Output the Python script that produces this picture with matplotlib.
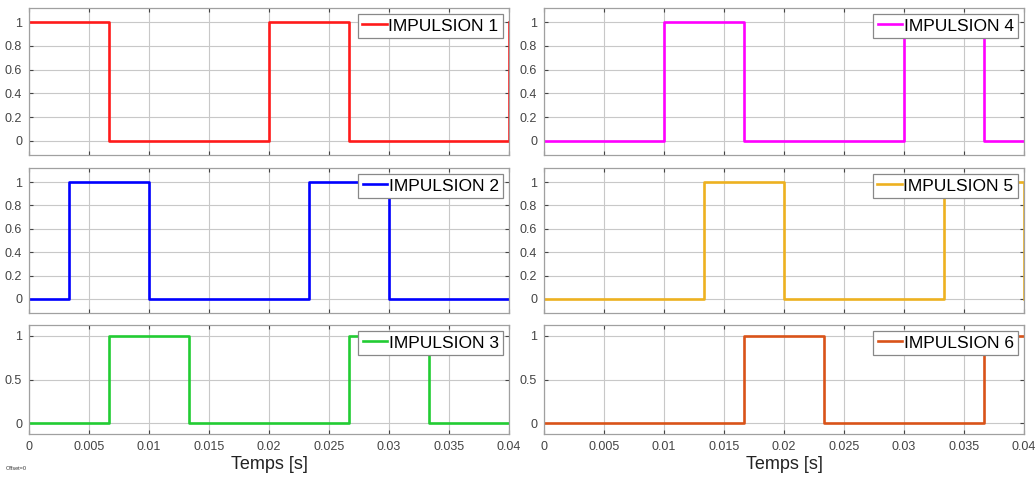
import matplotlib
matplotlib.use("Agg")
import matplotlib.pyplot as plt
import numpy as np

plt.rcParams['font.family'] = ['Liberation Sans', 'DejaVu Sans']

# instants de commutation et niveaux (steps-post)
t1 = [0, 0.00667, 0.02, 0.02667, 0.04];            y1 = [1, 0, 1, 0, 1]
t2 = [0, 0.00333, 0.01, 0.02333, 0.03, 0.04];      y2 = [0, 1, 0, 1, 0, 0]
t3 = [0, 0.00667, 0.01333, 0.02667, 0.03333, 0.04]; y3 = [0, 1, 0, 1, 0, 0]
t4 = [0, 0.01, 0.01667, 0.03, 0.03667, 0.04];      y4 = [0, 1, 0, 1, 0, 0]
t5 = [0, 0.01333, 0.02, 0.03333, 0.04];            y5 = [0, 1, 0, 1, 0]
t6 = [0, 0.01667, 0.02333, 0.03667, 0.04];         y6 = [0, 1, 0, 1, 1]

labels = ['IMPULSION 1', 'IMPULSION 2', 'IMPULSION 3',
          'IMPULSION 4', 'IMPULSION 5', 'IMPULSION 6']
colors = ['#ff1a1a', '#0000ff', '#22cc33', '#ff00ff', '#edb120', '#d95319']
xticks = [0, 0.005, 0.01, 0.015, 0.02, 0.025, 0.03, 0.035, 0.04]
xticklabels = ['0', '0.005', '0.01', '0.015', '0.02', '0.025', '0.03', '0.035', '0.04']
yticks_top = [0, 0.2, 0.4, 0.6, 0.8, 1]
yticklabels_top = ['0', '0.2', '0.4', '0.6', '0.8', '1']
yticks_bot = [0, 0.5, 1]
yticklabels_bot = ['0', '0.5', '1']

series = [(t1, y1), (t2, y2), (t3, y3), (t4, y4), (t5, y5), (t6, y6)]

fig = plt.figure(figsize=(10.35, 4.8), dpi=100)
W, H = 1035.0, 480.0
cols = [29, 544]
col_w = 480
rows = [(8, 155), (168, 313), (325, 434)]

for k, (t, y) in enumerate(series):
    c = k // 3
    r = k % 3
    top, bot = rows[r]
    ax = fig.add_axes([cols[c] / W, 1 - bot / H, col_w / W, (bot - top) / H])
    ax.plot(t, y, drawstyle='steps-post', color=colors[k], lw=1.9, label=labels[k])
    ax.set_xlim(0, 0.04)
    ax.set_ylim(-0.12, 1.12)
    ax.set_xticks(xticks)
    if r < 2:
        ax.set_yticks(yticks_top)
        ax.set_yticklabels(yticklabels_top)
        ax.set_xticklabels([])
    else:
        ax.set_yticks(yticks_bot)
        ax.set_yticklabels(yticklabels_bot)
        ax.set_xticklabels(xticklabels)
        ax.set_xlabel('Temps [s]', fontsize=13, labelpad=2, color='#222222')
    ax.grid(True, color='#c8c8c8', lw=0.8)
    ax.set_axisbelow(True)
    ax.tick_params(direction='in', length=3, labelsize=9, colors='#444444',
                   top=True, right=True, pad=5)
    for s in ax.spines.values():
        s.set_color('#a0a0a0')
        s.set_linewidth(0.9)
    leg = ax.legend(loc='upper right', fontsize=12.5, handlelength=1.4,
                    handletextpad=0.1, borderpad=0.25, borderaxespad=0.35,
                    fancybox=False, framealpha=1, edgecolor='#888888')
    leg.get_frame().set_linewidth(0.9)

fig.text(6 / W, 1 - 470 / H, 'Offset=0', fontsize=4, color='#333333')

fig.savefig('out.png', dpi=100)
